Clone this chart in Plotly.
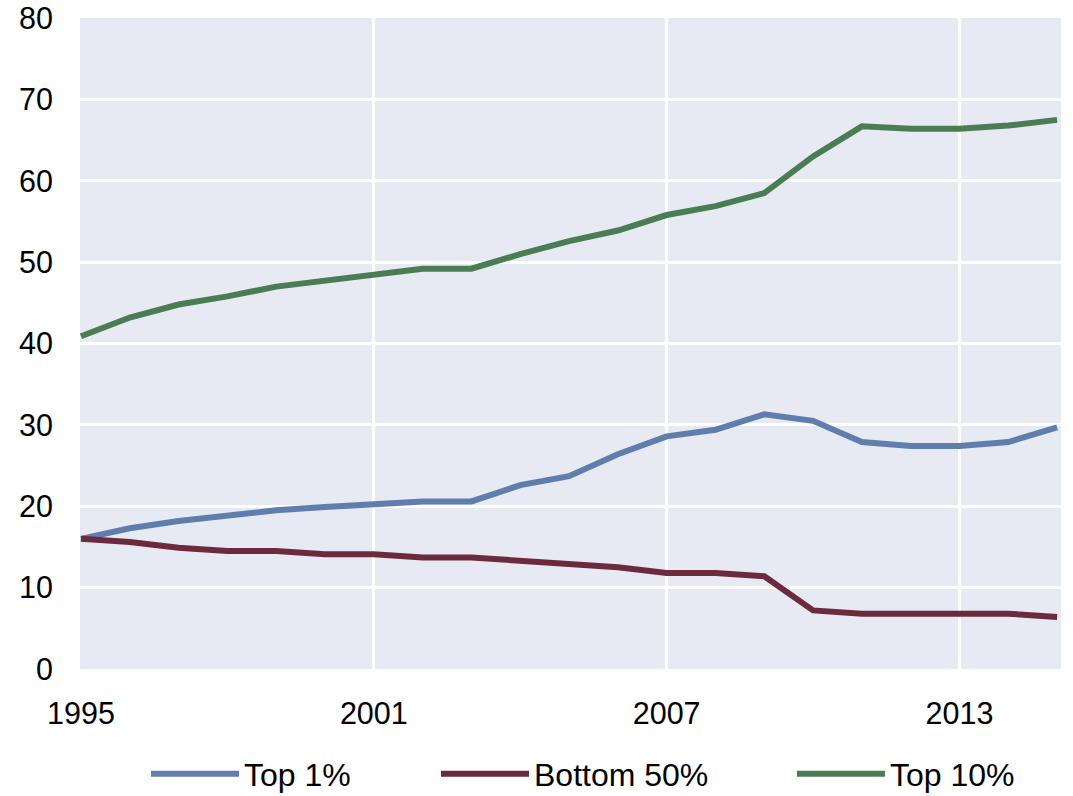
import plotly.graph_objects as go

# Income share series, percent, 1995-2015
years = list(range(1995, 2016))
top_1 = [16.0, 17.3, 18.2, 18.9, 19.5, 19.9, 20.3, 20.6, 20.6, 22.6, 23.7,
         26.4, 28.6, 29.4, 31.3, 30.5, 27.9, 27.4, 27.4, 27.9, 29.7]
bottom_50 = [16.0, 15.6, 14.9, 14.5, 14.5, 14.1, 14.1, 13.7, 13.7, 13.3, 12.9,
             12.5, 11.8, 11.8, 11.4, 7.2, 6.8, 6.8, 6.8, 6.8, 6.4]
top_10 = [40.9, 43.2, 44.8, 45.8, 47.0, 47.7, 48.5, 49.2, 49.2, 51.0, 52.6,
          53.9, 55.8, 56.9, 58.5, 63.0, 66.7, 66.4, 66.4, 66.8, 67.5]

x_ticks = [1995, 2001, 2007, 2013]
y_ticks = [0, 10, 20, 30, 40, 50, 60, 70, 80]

# name, values, colour, legend id, legend left edge (px in the page)
series = [
    ("Top 1%", top_1, "#5F7EAD", "legend", 146),
    ("Bottom 50%", bottom_50, "#6C2B3D", "legend2", 436),
    ("Top 10%", top_10, "#4B7D55", "legend3", 792),
]

fig = go.Figure()
for name, values, color, leg, _ in series:
    fig.add_trace(go.Scatter(
        x=years, y=values, name=name, mode="lines",
        line=dict(color=color, width=6),
        legend=leg,
    ))

font_family = "Liberation Sans, Arial, sans-serif"

legend_style = dict(
    orientation="h", xref="container", yref="container",
    y=22 / 796, yanchor="middle", xanchor="left",
    font=dict(size=32), itemwidth=88, bgcolor="rgba(0,0,0,0)",
)

layout_legends = {}
for name, values, color, leg, left in series:
    layout_legends[leg] = dict(legend_style, x=left / 1073)

fig.update_layout(
    width=1073, height=796,
    margin=dict(l=80, r=12, t=18, b=127, autoexpand=False),
    paper_bgcolor="white",
    plot_bgcolor="#E7EAF2",
    font=dict(family=font_family, size=30.5, color="black"),
    showlegend=True,
    xaxis=dict(
        range=[1994.98, 2015.08], tickvals=x_ticks, ticktext=[str(t) for t in x_ticks],
        showgrid=True, gridcolor="white", gridwidth=3,
        zeroline=False, showline=False, ticks="", ticklabelstandoff=23,
    ),
    yaxis=dict(
        range=[0, 80.02], tickvals=y_ticks,
        showgrid=True, gridcolor="white", gridwidth=3,
        zeroline=False, showline=False, ticks="", ticklabelstandoff=26,
        ticklabeloverflow="allow",
    ),
    **layout_legends,
)

fig.write_html("out.html")
